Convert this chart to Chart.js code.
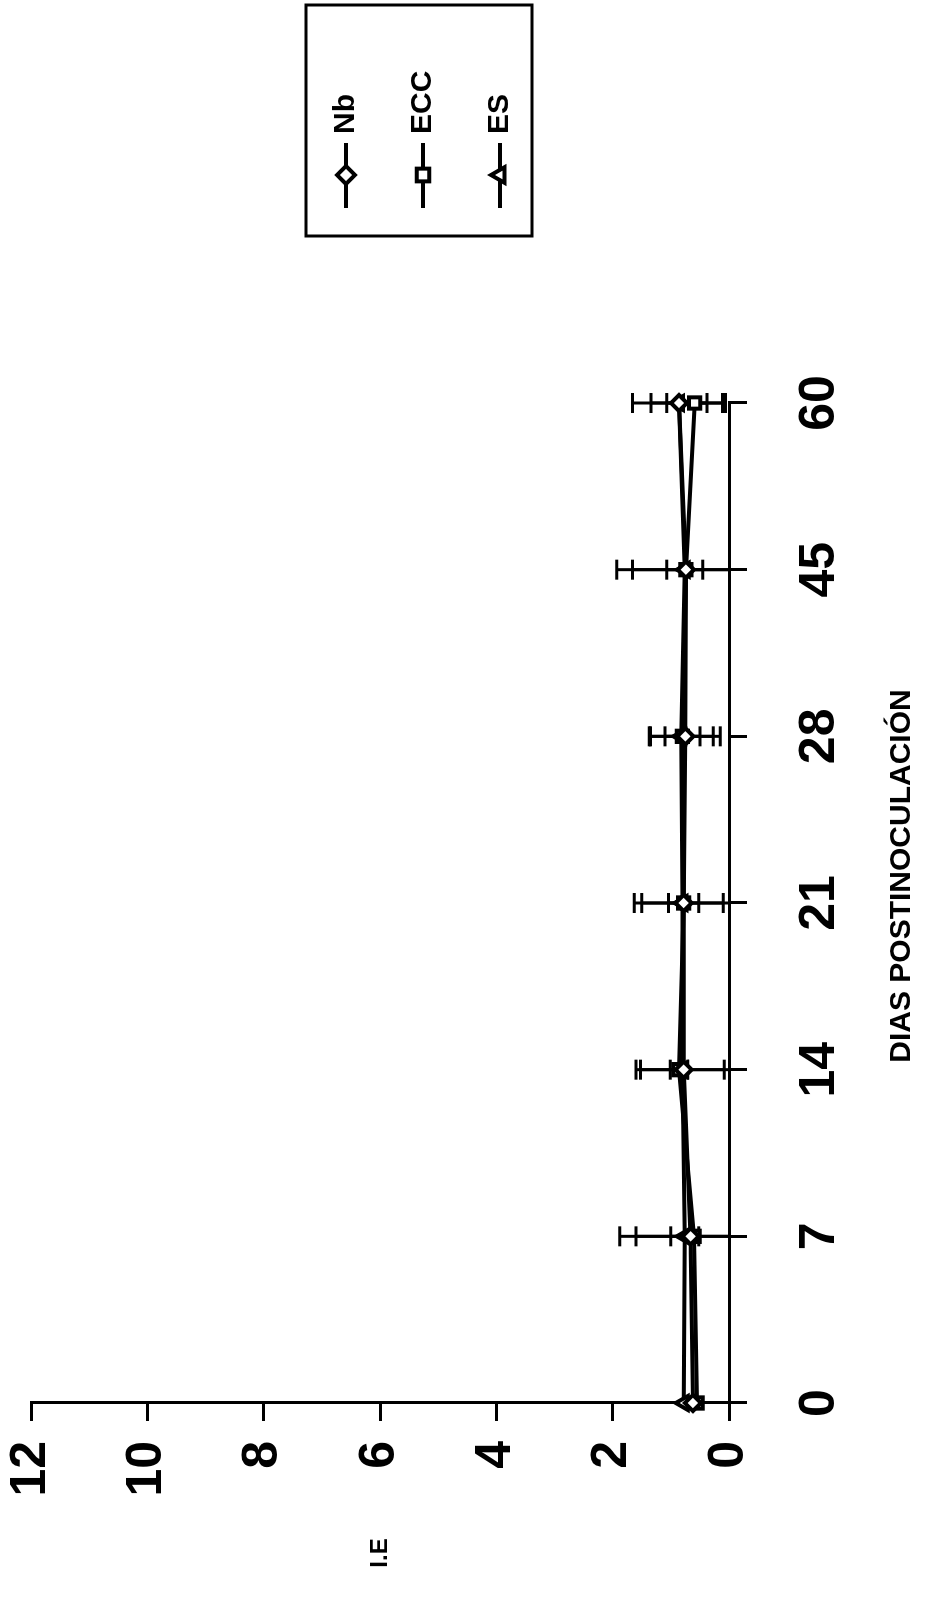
<!DOCTYPE html>
<html>
<head>
<meta charset="utf-8">
<script src="https://cdn.jsdelivr.net/npm/chart.js@4.4.1/dist/chart.umd.min.js"></script>
<style>
html, body { margin: 0; padding: 0; background: #fff; overflow: hidden; }
/* the figure is printed sideways: draw it upright and turn the whole box */
#wrap {
    position: absolute; left: 0; top: 0;
    width: 1598px; height: 925px;
    transform-origin: 0 0;
    transform: translateY(1598px) rotate(-90deg);
}
</style>
</head>
<body>
<div id="wrap"><canvas id="ieChart" width="1598" height="925"></canvas></div>
<script>
// dias postinoculacion
const dias = ["0", "7", "14", "21", "28", "45", "60"];

// I.E por grupo (media y error)
const nbVals  = [0.62, 0.66, 0.78, 0.78, 0.75, 0.74, 0.86];
const nbErr   = [0, 1.22, 0.82, 0.85, 0.60, 1.19, 0.80];
const eccVals = [0.55, 0.60, 0.86, 0.78, 0.80, 0.74, 0.59];
const eccErr  = [0, 1.00, 0.15, 0.26, 0.30, 0.92, 0.48];
const esVals  = [0.78, 0.76, 0.80, 0.80, 0.82, 0.76, 0.86];
const esErr   = [0, 0.24, 0.72, 0.70, 0.55, 0.31, 0.48];

const yMin = 0, yMax = 12, yStep = 2;

const FONT = "'Liberation Sans', Arial, sans-serif";
const X_TITLE = "DIAS POSTINOCULACIÓN";

// barras de error verticales, recortadas en el eje 0
const errorBars = {
    id: "errorBars",
    beforeDatasetsDraw(chart) {
        const ctx = chart.ctx;
        const x = chart.scales.x, y = chart.scales.y;
        ctx.save();
        ctx.strokeStyle = "#000";
        ctx.lineWidth = 3;
        chart.data.datasets.forEach(ds => {
            ds.data.forEach((v, i) => {
                const e = ds.errors[i];
                if (!e) return;
                const px = x.getPixelForValue(i);
                const lo = v - e;
                const pHi = y.getPixelForValue(v + e);
                const pLo = y.getPixelForValue(Math.max(lo, yMin));
                ctx.beginPath();
                ctx.moveTo(px, pHi); ctx.lineTo(px, pLo);
                ctx.moveTo(px - 10, pHi); ctx.lineTo(px + 10, pHi);
                if (lo > yMin) { ctx.moveTo(px - 10, pLo); ctx.lineTo(px + 10, pLo); }
                ctx.stroke();
            });
        });
        ctx.restore();
    }
};

// leyenda con recuadro + titulos de ejes
const boxLegend = {
    id: "boxLegend",
    afterDraw(chart) {
        const ctx = chart.ctx, a = chart.chartArea;
        const left = a.right + 167, top = 306, w = 231, h = 226;
        ctx.save();
        ctx.lineWidth = 3;
        ctx.strokeStyle = "#000";
        ctx.strokeRect(left, top, w, h);
        chart.data.datasets.forEach((ds, i) => {
            const cy = top + 40 + i * 77;
            ctx.lineWidth = 4;
            ctx.beginPath();
            ctx.moveTo(left + 28, cy); ctx.lineTo(left + 93, cy);
            ctx.stroke();
            ctx.fillStyle = "#fff";
            Chart.helpers.drawPoint(ctx, { pointStyle: ds.pointStyle, radius: 9, borderWidth: 4 }, left + 61, cy);
            ctx.fillStyle = "#000";
            ctx.font = "bold 30px " + FONT;
            ctx.textBaseline = "middle";
            ctx.textAlign = "left";
            ctx.fillText(ds.label, left + 102, cy);
        });
        // titulo del eje de valores
        ctx.font = "bold 24px " + FONT;
        ctx.textAlign = "center";
        ctx.fillText("I.E", a.left - 150, (a.top + a.bottom) / 2);
        // titulo del eje de dias
        ctx.font = "bold 30px " + FONT;
        ctx.fillText(X_TITLE, (a.left + a.right) / 2 + 27, a.bottom + 173);
        ctx.restore();
    }
};

function serie(label, data, errors, style) {
    return {
        label: label,
        data: data,
        errors: errors,
        borderColor: "#000",
        borderWidth: 4,
        tension: 0,
        pointStyle: style,
        pointRadius: 8,
        pointBackgroundColor: "#fff",
        pointBorderColor: "#000",
        pointBorderWidth: 4
    };
}

new Chart(document.getElementById("ieChart"), {
    type: "line",
    data: {
        labels: dias,
        datasets: [
            serie("Nb", nbVals, nbErr, "rectRot"),
            serie("ECC", eccVals, eccErr, "rect"),
            serie("ES", esVals, esErr, "triangle")
        ]
    },
    options: {
        responsive: false,
        animation: false,
        layout: { padding: { left: 0, top: 31, right: 403, bottom: 0 } },
        plugins: {
            legend: { display: false },
            tooltip: { enabled: false }
        },
        scales: {
            x: {
                offset: false,
                grid: { drawOnChartArea: false, tickLength: 18, lineWidth: 3, color: "#000" },
                border: { color: "#000", width: 3 },
                ticks: { color: "#000", padding: 43, maxRotation: 0, font: { family: FONT, size: 50, weight: "bold" } },
                afterFit(scale) { scale.height = 196; scale.paddingLeft = 0; scale.paddingRight = 0; }
            },
            y: {
                min: yMin,
                max: yMax,
                grid: { drawOnChartArea: false, tickLength: 18, lineWidth: 3, color: "#000" },
                border: { color: "#000", width: 3 },
                ticks: { stepSize: yStep, color: "#000", padding: 20, font: { family: FONT, size: 50, weight: "bold" } },
                afterFit(scale) { scale.width = 195; scale.paddingTop = 0; scale.paddingBottom = 0; }
            }
        }
    },
    plugins: [errorBars, boxLegend]
});
</script>
</body>
</html>
